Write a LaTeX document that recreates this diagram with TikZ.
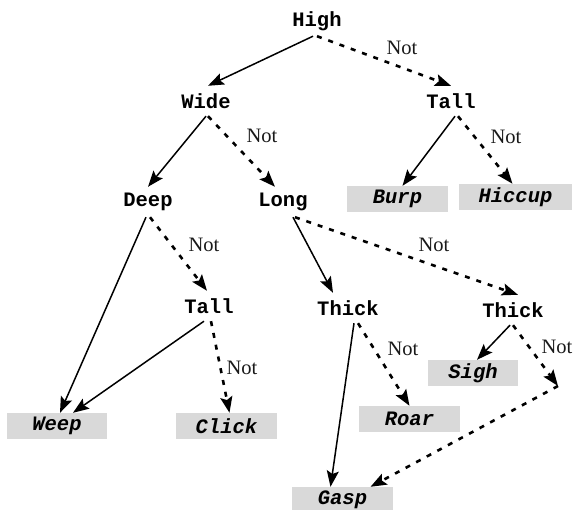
\documentclass[tikz,border=0pt]{standalone}
\usepackage{fontspec}
\setmainfont{Liberation Serif}
\setmonofont{Liberation Mono}
\usetikzlibrary{arrows.meta}
\begin{document}
\begin{tikzpicture}[x=1pt,y=-1pt,
  qnode/.style={font=\ttfamily\bfseries\fontsize{20.5}{20.5}\selectfont, inner sep=0pt, minimum height=30pt},
  leaf/.style={font=\ttfamily\bfseries\itshape\fontsize{20.5}{20.5}\selectfont, fill=black!15, inner sep=0pt, minimum height=26pt},
  yesarrow/.style={-{Stealth[length=16pt,width=12pt,inset=3pt]}, line width=1.5pt},
  noarrow/.style={-{Stealth[length=16pt,width=12pt,inset=3pt]}, line width=2.6pt, dash pattern=on 5pt off 7pt},
  notlbl/.style={font=\fontsize{20.5}{20.5}\selectfont, text=black!90, inner sep=0pt}]
\useasboundingbox (0,0) rectangle (576,510);
% question nodes
\node[qnode] (high) at (317,21) {High};
\node[qnode] (wide) at (206,101) {Wide};
\node[qnode] (tall1) at (451,101) {Tall};
\node[qnode] (deep) at (148,202) {Deep};
\node[qnode] (long) at (283,202) {Long};
\node[qnode] (tall2) at (209,306) {Tall};
\node[qnode] (thick1) at (348,308) {Thick};
\node[qnode] (thick2) at (513,310) {Thick};
% leaves
\node[leaf, minimum width=101pt] (burp) at (397.5,199) {Burp};
\node[leaf, minimum width=113pt] (hiccup) at (515.5,197) {Hiccup};
\node[leaf, minimum width=100pt] (weep) at (57,426) {Weep};
\node[leaf, minimum width=101pt] (click) at (226.5,426) {Click};
\node[leaf, minimum width=90pt] (sigh) at (473,373) {Sigh};
\node[leaf, minimum width=101pt] (roar) at (409.5,419) {Roar};
\node[leaf, minimum width=101pt] (gasp) at (342.5,500) {Gasp};
\coordinate (bend) at (558,386);
% Not labels
\node[notlbl] (n1) at (402,48) {Not};
\node[notlbl] (n2) at (262,136) {Not};
\node[notlbl] (n3) at (506,137) {Not};
\node[notlbl] (n4) at (204,245) {Not};
\node[notlbl] (n5) at (434,245) {Not};
\node[notlbl] (n6) at (242,368) {Not};
\node[notlbl] (n7) at (403,349) {Not};
\node[notlbl] (n8) at (557,347) {Not};
% edges
\draw[yesarrow] ([xshift=-4pt]high.south) -- ([xshift=2pt]wide.north);
\draw[noarrow] (high.south) -- (tall1.north);
\draw[yesarrow] (wide.south) -- (deep.north);
\draw[noarrow] ([xshift=2pt]wide.south) -- ([xshift=-8pt]long.north);
\draw[yesarrow] ([xshift=4pt]tall1.south) -- ([xshift=5pt]burp.north);
\draw[noarrow] ([xshift=7pt]tall1.south) -- ([xshift=-3pt]hiccup.north);
\draw[yesarrow] ([xshift=-2pt]deep.south) -- ([xshift=3pt]weep.north);
\draw[noarrow] ([xshift=2pt]deep.south) -- ([xshift=-2pt]tall2.north);
\draw[yesarrow] ([xshift=10pt]long.south) -- ([xshift=-15pt]thick1.north);
\draw[noarrow] ([xshift=12pt]long.south) -- ([xshift=5pt]thick2.north);
\draw[yesarrow] ([xshift=-5pt]tall2.south) -- ([xshift=16pt]weep.north);
\draw[noarrow] ([xshift=2pt]tall2.south) -- ([xshift=3pt]click.north);
\draw[yesarrow] ([xshift=6pt]thick1.south) -- ([xshift=-12pt]gasp.north);
\draw[noarrow] ([xshift=10pt]thick1.south) -- (roar.north);
\draw[yesarrow] ([xshift=-3pt]thick2.south) -- ([xshift=4pt]sigh.north);
\draw[noarrow] (thick2.south) -- (bend);
\draw[noarrow] (bend) -- ([xshift=28pt]gasp.north);
\end{tikzpicture}
\end{document}
